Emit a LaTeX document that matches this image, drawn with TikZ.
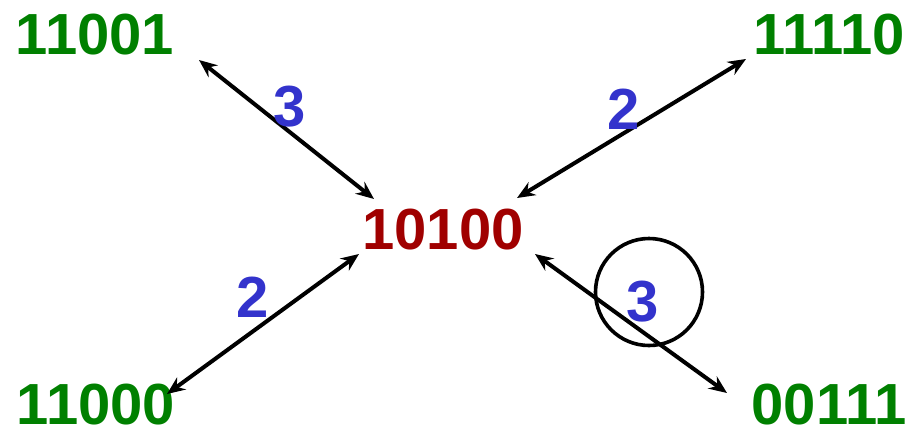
\documentclass[tikz,border=0pt]{standalone}
\usepackage{fontspec}
\setmainfont{Liberation Sans}
\usetikzlibrary{arrows.meta}
\definecolor{cgreen}{RGB}{0,128,0}
\definecolor{cred}{RGB}{160,0,0}
\definecolor{cblue}{RGB}{51,51,204}
\tikzset{
  word/.style={inner sep=0pt, font=\fontsize{58}{58}\selectfont\bfseries},
  leaf/.style={word, text=cgreen},
  hub/.style={word, text=cred},
  dist/.style={word, text=cblue},
  link/.style={line width=4pt, {Stealth[length=18pt,width=15pt,inset=6pt]}-{Stealth[length=18pt,width=15pt,inset=6pt]}},
}
\begin{document}
\begin{tikzpicture}[x=1pt,y=-1pt]
\useasboundingbox (0,0) rectangle (915,431);
\node[leaf] (a) at (95,35) {11001};
\node[leaf] (b) at (829,35) {11110};
\node[hub] (c) at (443,230) {10100};
\node[leaf] (d) at (96,404.5) {11000};
\node[leaf] (e) at (829,404.5) {00111};
\coordinate (a1) at (199,60);
\coordinate (a2) at (374,199);
\coordinate (b1) at (746,59);
\coordinate (b2) at (517,198);
\coordinate (d1) at (167,394);
\coordinate (d2) at (359,254);
\coordinate (e1) at (535,254);
\coordinate (e2) at (727,393);
\draw[link] (a1) -- (a2);
\draw[link] (b1) -- (b2);
\draw[link] (d1) -- (d2);
\draw[link] (e1) -- (e2);
\node[dist] (l1) at (289.5,106.5) {3};
\node[dist] (l2) at (624,109) {2};
\node[dist] (l3) at (253,297) {2};
\node[dist] (l4) at (642.5,301.5) {3};
\node[draw, circle, line width=3.6pt, minimum size=107pt, inner sep=0pt] (ring) at (649,292) {};
\end{tikzpicture}
\end{document}
